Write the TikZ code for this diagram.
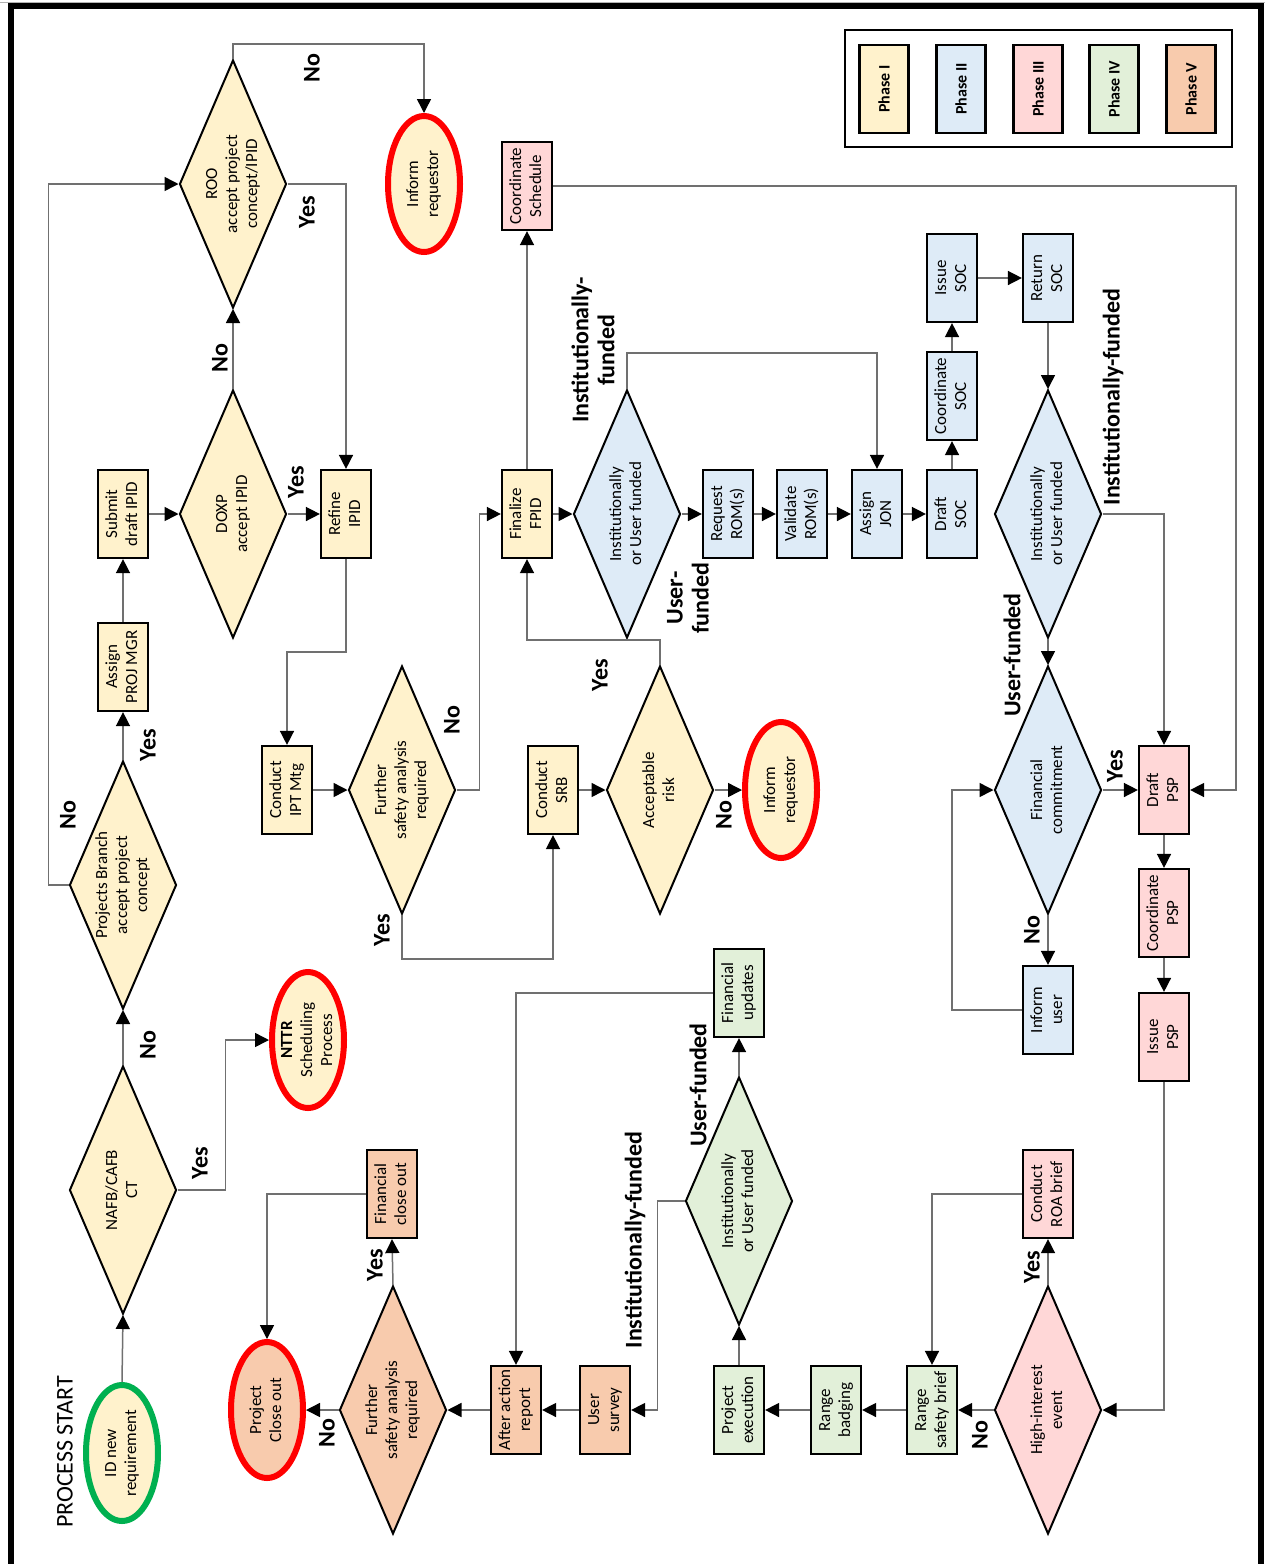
\documentclass[tikz,border=0pt]{standalone}
\usepackage{fontspec}
\setmainfont{Carlito}
\usetikzlibrary{shapes.geometric,arrows.meta}

\definecolor{phaseA}{HTML}{FFF2CC}
\definecolor{phaseB}{HTML}{DEEBF7}
\definecolor{phaseC}{HTML}{FFD7D7}
\definecolor{phaseD}{HTML}{E2F0D9}
\definecolor{phaseE}{HTML}{F8CBAD}
\definecolor{linkgray}{HTML}{707070}
\definecolor{startgreen}{HTML}{00B050}

% text set sideways, reading upwards, several centred lines
\newcommand{\vtext}[1]{\rotatebox{90}{\begin{tabular}{@{}c@{}}#1\end{tabular}}}

\tikzset{
  every node/.style={font=\fontsize{17}{20}\selectfont, inner sep=0pt},
  proc/.style={rectangle, draw=black, line width=2.2pt, minimum width=50pt, minimum height=88pt},
  choice/.style={diamond, draw=black, line width=2pt, aspect=0.43, minimum width=107pt, minimum height=248pt},
  termA/.style={ellipse, draw=red, line width=6pt, inner sep=-10pt, minimum width=72pt, minimum height=136pt},
  arr/.style={draw=linkgray, line width=1.5pt, -{Triangle[length=14pt,width=14pt,black]}},
  lab/.style={font=\bfseries\fontsize{24}{26}\selectfont, rotate=90, align=center},
  legendbox/.style={rectangle, draw=black, line width=2.2pt, minimum width=49pt, minimum height=88pt,
    font=\bfseries\fontsize{16}{18}\selectfont},
}

\begin{document}
\begin{tikzpicture}[x=1pt,y=-1pt]
\useasboundingbox (0,0) rectangle (1265,1564);
\fill[white] (0,0) rectangle (1265,1564);

% outer frame
\draw[gray!60, line width=1pt] (0,2.5) -- (1265,2.5);
\draw[line width=6pt] (11,1570) -- (11,6) -- (1261,6) -- (1261,1570);

% legend
\draw[line width=2.5pt] (845,30) rectangle (1232,147);
\node[legendbox, fill=phaseA] (lgA) at (884,89) {\rotatebox{90}{Phase I}};
\node[legendbox, fill=phaseB] (lgB) at (961,89) {\rotatebox{90}{Phase II}};
\node[legendbox, fill=phaseC] (lgC) at (1038,89) {\rotatebox{90}{Phase III}};
\node[legendbox, fill=phaseD] (lgD) at (1114,89) {\rotatebox{90}{Phase IV}};
\node[legendbox, fill=phaseE] (lgE) at (1191,89) {\rotatebox{90}{Phase V}};

% Phase I
\node[proc, fill=phaseA] (submit) at (123,514) {\vtext{Submit\\draft IPID}};
\node[proc, fill=phaseA] (assign) at (123,667) {\vtext{Assign\\PROJ MGR}};
\node[choice, fill=phaseA] (pb) at (123,885) {\vtext{Projects Branch\\accept project\\concept}};
\node[choice, fill=phaseA] (nafb) at (123,1190) {\vtext{NAFB/CAFB\\CT}};
\node[termA, draw=startgreen, fill=phaseA] (idn) at (122,1453) {\vtext{ID new\\requirement}};
\node[font=\fontsize{24}{26}\selectfont, rotate=90] (pstart) at (65,1452) {PROCESS START};

\node[choice, fill=phaseA] (roo) at (233,184) {\vtext{ROO\\accept project\\concept/IPID}};
\node[choice, fill=phaseA] (doxp) at (233,514) {\vtext{DOXP\\accept IPID}};
\node[proc, fill=phaseA] (refine) at (346,514) {\vtext{Refine\\IPID}};
\node[termA, fill=phaseA] (inf1) at (424,184) {\vtext{Inform\\requestor}};
\node[proc, fill=phaseA] (ipt) at (287,790) {\vtext{Conduct\\IPT Mtg}};
\node[choice, fill=phaseA] (fsa1) at (402,790) {\vtext{Further\\safety analysis\\required}};
\node[termA, fill=phaseA] (nttr) at (308,1040) {\vtext{\textbf{NTTR}\\Scheduling\\Process}};
\node[proc, fill=phaseA] (srb) at (553,790) {\vtext{Conduct\\SRB}};
\node[choice, fill=phaseA] (ar) at (660,790) {\vtext{Acceptable\\risk}};
\node[termA, fill=phaseA] (inf2) at (781,790) {\vtext{Inform\\requestor}};
\node[proc, fill=phaseA] (fin) at (527,514) {\vtext{Finalize\\FPID}};

% Phase II
\node[choice, fill=phaseB] (iu1) at (627,514) {\vtext{Institutionally\\or User funded}};
\node[proc, fill=phaseB] (rrom) at (728,514) {\vtext{Request\\ROM(s)}};
\node[proc, fill=phaseB] (vrom) at (802,514) {\vtext{Validate\\ROM(s)}};
\node[proc, fill=phaseB] (jon) at (877,514) {\vtext{Assign\\JON}};
\node[proc, fill=phaseB] (dsoc) at (952,514) {\vtext{Draft\\SOC}};
\node[proc, fill=phaseB] (csoc) at (952,396) {\vtext{Coordinate\\SOC}};
\node[proc, fill=phaseB] (isoc) at (952,278) {\vtext{Issue\\SOC}};
\node[proc, fill=phaseB] (rsoc) at (1048,278) {\vtext{Return\\SOC}};
\node[choice, fill=phaseB] (iu2) at (1048,514) {\vtext{Institutionally\\or User funded}};
\node[choice, fill=phaseB] (fc) at (1048,790) {\vtext{Financial\\commitment}};
\node[proc, fill=phaseB] (iuser) at (1048,1010) {\vtext{Inform\\user}};

% Phase III
\node[proc, fill=phaseC] (cs) at (527,186) {\vtext{Coordinate\\Schedule}};
\node[proc, fill=phaseC] (dpsp) at (1164,790) {\vtext{Draft\\PSP}};
\node[proc, fill=phaseC] (cpsp) at (1164,913) {\vtext{Coordinate\\PSP}};
\node[proc, fill=phaseC] (ipsp) at (1164,1037) {\vtext{Issue\\PSP}};
\node[choice, fill=phaseC] (hie) at (1048,1410) {\vtext{High-interest\\event}};
\node[proc, fill=phaseC] (roa) at (1048,1194) {\vtext{Conduct\\ROA brief}};

% Phase IV
\node[proc, fill=phaseD] (rsb) at (932,1410) {\vtext{Range\\safety brief}};
\node[proc, fill=phaseD] (rbadge) at (836,1410) {\vtext{Range\\badging}};
\node[proc, fill=phaseD] (pexec) at (739,1410) {\vtext{Project\\execution}};
\node[choice, fill=phaseD] (iu3) at (739,1201) {\vtext{Institutionally\\or User funded}};
\node[proc, fill=phaseD] (fupd) at (739,993) {\vtext{Financial\\updates}};

% Phase V
\node[proc, fill=phaseE] (usurv) at (605,1410) {\vtext{User\\survey}};
\node[proc, fill=phaseE] (aar) at (516,1410) {\vtext{After action\\report}};
\node[choice, fill=phaseE] (fsa2) at (393,1410) {\vtext{Further\\safety analysis\\required}};
\node[proc, fill=phaseE] (fco) at (392,1194) {\vtext{Financial\\close out}};
\node[termA, fill=phaseE] (pco) at (267,1410) {\vtext{Project\\Close out}};

% connectors
\draw[arr] (idn.north) -- (nafb.south);
\draw[arr] (nafb.north) -- (pb.south);
\draw[arr] (nafb.east) -- ++(48,0) |- (nttr.west);
\draw[arr] (pb.north) -- (assign.south);
\draw[arr] (assign.north) -- (submit.south);
\draw[arr] (submit.east) -- (doxp.west);
\draw[arr] (pb.west) -- ++(-20,0) |- (roo.west);
\draw[arr] (doxp.north) -- (roo.south);
\draw[arr] (doxp.east) -- (refine.west);
\draw[arr] (roo.east) -| (refine.north);
\draw[arr] (roo.north) -- ++(0,-15) -| (inf1.north);
\draw[arr] (refine.south) -- ++(0,93) -| (ipt.north);
\draw[arr] (ipt.east) -- (fsa1.west);
\draw[arr] (fsa1.east) -- ++(23,0) |- (fin.west);
\draw[arr] (fsa1.south) -- ++(0,44) -| (srb.south);
\draw[arr] (srb.east) -- (ar.west);
\draw[arr] (ar.east) -- (inf2.west);
\draw[arr] (ar.north) -- ++(0,-25) -| (fin.south);
\draw[arr] (fin.north) -- (cs.south);
\draw[arr] (fin.east) -- (iu1.west);
\draw[arr] (iu1.east) -- (rrom.west);
\draw[arr] (rrom.east) -- (vrom.west);
\draw[arr] (vrom.east) -- (jon.west);
\draw[arr] (jon.east) -- (dsoc.west);
\draw[arr] (iu1.north) -- ++(0,-36) -| (jon.north);
\draw[arr] (dsoc.north) -- (csoc.south);
\draw[arr] (csoc.north) -- (isoc.south);
\draw[arr] (isoc.east) -- (rsoc.west);
\draw[arr] (rsoc.south) -- (iu2.north);
\draw[arr] (iu2.east) -| (dpsp.north);
\draw[arr] (iu2.south) -- (fc.north);
\draw[arr] (fc.east) -- (dpsp.west);
\draw[arr] (fc.south) -- (iuser.north);
\draw[arr] (iuser.west) -- ++(-70,0) |- (fc.west);
\draw[arr] (cs.east) -- ++(683,0) |- (dpsp.east);
\draw[arr] (dpsp.south) -- (cpsp.north);
\draw[arr] (cpsp.south) -- (ipsp.north);
\draw[arr] (ipsp.south) |- (hie.east);
\draw[arr] (hie.north) -- (roa.south);
\draw[arr] (hie.west) -- (rsb.east);
\draw[arr] (roa.west) -| (rsb.north);
\draw[arr] (rsb.west) -- (rbadge.east);
\draw[arr] (rbadge.west) -- (pexec.east);
\draw[arr] (pexec.north) -- (iu3.south);
\draw[arr] (iu3.north) -- (fupd.south);
\draw[arr] (fupd.west) -| (aar.north);
\draw[arr] (iu3.west) -- ++(-27,0) |- (usurv.east);
\draw[arr] (usurv.west) -- (aar.east);
\draw[arr] (aar.west) -- (fsa2.east);
\draw[arr] (fsa2.north) -- (fco.south);
\draw[arr] (fsa2.west) -- (pco.east);
\draw[arr] (fco.west) -| (pco.north);

% branch labels
\node[lab] (l1) at (148,1045) {No};
\node[lab] (l2) at (200,1163) {Yes};
\node[lab] (l3) at (148,745) {Yes};
\node[lab] (l4) at (68,815) {No};
\node[lab] (l5) at (220,358) {No};
\node[lab] (l6) at (296,482) {Yes};
\node[lab] (l7) at (307,212) {Yes};
\node[lab] (l8) at (312,68) {No};
\node[lab] (l9) at (452,720) {No};
\node[lab] (l10) at (382,930) {Yes};
\node[lab] (l11) at (600,675) {Yes};
\node[lab] (l12) at (724,815) {No};
\node[lab] (l13) at (593,350) {Institutionally-\\funded};
\node[lab] (l14) at (688,598) {User-\\funded};
\node[lab] (l15) at (1113,397) {Institutionally-funded};
\node[lab] (l16) at (1012,655) {User-funded};
\node[lab] (l17) at (1115,766) {Yes};
\node[lab] (l18) at (1032,930) {No};
\node[lab] (l19) at (1032,1267) {Yes};
\node[lab] (l20) at (980,1435) {No};
\node[lab] (l21) at (698,1085) {User-funded};
\node[lab] (l22) at (635,1240) {Institutionally-funded};
\node[lab] (l23) at (375,1265) {Yes};
\node[lab] (l24) at (327,1433) {No};
\end{tikzpicture}
\end{document}
